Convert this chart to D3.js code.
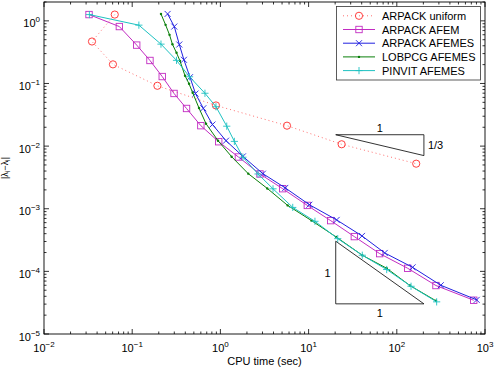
<!DOCTYPE html>
<html>
<head>
<meta charset="utf-8">
<script src="https://cdn.jsdelivr.net/npm/d3@7"></script>
<style>
	body { margin: 0; background: #fff; }
	text { font-family: "Liberation Sans", Arial, sans-serif; fill: #000; }
</style>
</head>
<body>
<svg id="chart" width="495" height="369"></svg>
<script>
// values (CPU time in sec, error)
var uniformTime = [0.0634, 0.035, 0.0605, 0.193, 0.891, 5.69, 23.7, 166];
var uniformErr  = [1.26, 0.468, 0.202, 0.0919, 0.0446, 0.0212, 0.0107, 0.00524];

var afemTime = [0.0324, 0.0715, 0.1125, 0.159, 0.219, 0.298, 0.413, 0.600, 0.957, 1.60, 2.81, 5.08, 9.67, 17.8, 33.0, 64.0, 133, 278, 745];
var afemErr  = [1.26, 0.811, 0.41, 0.233, 0.129, 0.0693, 0.0399, 0.0212, 0.01175, 0.0067, 0.00359, 0.00209, 0.00113, 0.000646, 0.000359, 0.000192, 0.000112, 5.94e-5, 3.46e-5];

var afemesTime = [0.252, 0.300, 0.342, 0.386, 0.452, 0.522, 0.640, 0.813, 1.157, 1.80, 3.03, 5.44, 10.2, 20.8, 40.3, 72.9, 151, 315, 805];
var afemesErr  = [1.29, 0.811, 0.419, 0.239, 0.126, 0.069, 0.0402, 0.0221, 0.0122, 0.00685, 0.00363, 0.00215, 0.00116, 0.000663, 0.000368, 0.000197, 0.000116, 6.0e-5, 3.51e-5];

var lobpcgTime = [0.212, 0.239, 0.265, 0.286, 0.318, 0.348, 0.397, 0.441, 0.485, 0.572, 0.687, 0.940, 1.34, 2.07, 3.40, 5.79, 10.8, 20.5, 40.6, 76.8, 141, 278];
var lobpcgErr  = [1.29, 0.863, 0.598, 0.422, 0.309, 0.230, 0.133, 0.0989, 0.0711, 0.0405, 0.0228, 0.0122, 0.00678, 0.00363, 0.00211, 0.00113, 0.000646, 0.000355, 0.000181, 0.000112, 5.94e-5, 3.39e-5];

var pinvitTime = [0.0327, 0.119, 0.212, 0.318, 0.447, 0.668, 0.891, 1.18, 1.44, 1.80, 2.67, 3.95, 6.61, 11.8, 21.4, 40.6, 76.8, 145, 283];
var pinvitErr  = [1.26, 0.854, 0.425, 0.234, 0.128, 0.0698, 0.0425, 0.0208, 0.0119, 0.00665, 0.00359, 0.00208, 0.00105, 0.000630, 0.000333, 0.000181, 0.000107, 5.78e-5, 3.26e-5];

var seriesNames = ["ARPACK uniform", "ARPACK AFEM", "ARPACK AFEMES", "LOBPCG AFEMES", "PINVIT AFEMES"];

var xTicks = [1e-2, 1e-1, 1e0, 1e1, 1e2, 1e3];
var xTickExp = ["\u22122", "\u22121", "0", "1", "2", "3"];
var yTicks = [1e-5, 1e-4, 1e-3, 1e-2, 1e-1, 1e0];
var yTickExp = ["\u22125", "\u22124", "\u22123", "\u22122", "\u22121", "0"];

// slope triangles: corner time, corner error, rise in decades over one decade, labels
var triTime  = [20.3, 20.3];
var triErr   = [0.0152, 3.03e-5];
var triRise  = [-1 / 3, 1];
var triRun   = ["1", "1"];
var triSlope = ["1/3", "1"];

var svg = d3.select("#chart"),
	pLeft = 44, pRight = 485, pTop = 2, pBottom = 334;

var x = d3.scaleLog().domain([1e-2, 1e3]).range([pLeft, pRight]);
var y = d3.scaleLog().domain([1e-5, 2]).range([pBottom, pTop]);

// ticks inside the box, on all four sides
var minorX = [], minorY = [];
for (var d = -2; d < 3; d++) {
	for (var m = 2; m < 10; m++) minorX.push(m * Math.pow(10, d));
}
for (var d = -5; d <= 0; d++) {
	for (var m = 2; m < 10; m++) {
		if (m * Math.pow(10, d) <= 2) minorY.push(m * Math.pow(10, d));
	}
}

var ticks = svg.append("g").attr("stroke", "#000").attr("stroke-width", 0.8);

function xTick(v, len) {
	var px = x(v);
	ticks.append("line").attr("x1", px).attr("x2", px).attr("y1", pBottom).attr("y2", pBottom - len);
	ticks.append("line").attr("x1", px).attr("x2", px).attr("y1", pTop).attr("y2", pTop + len);
}
function yTick(v, len) {
	var py = y(v);
	ticks.append("line").attr("y1", py).attr("y2", py).attr("x1", pLeft).attr("x2", pLeft + len);
	ticks.append("line").attr("y1", py).attr("y2", py).attr("x1", pRight).attr("x2", pRight - len);
}
minorX.forEach(function (v) { xTick(v, 2.5); });
xTicks.forEach(function (v) { xTick(v, 5); });
minorY.forEach(function (v) { yTick(v, 2.5); });
yTicks.forEach(function (v) { yTick(v, 5); });

// tick labels
xTicks.forEach(function (v, i) {
	var t = svg.append("text")
		.attr("x", x(v))
		.attr("y", 352)
		.attr("text-anchor", "middle")
		.attr("font-size", 11);
	t.append("tspan").text("10");
	t.append("tspan").attr("dy", -5).attr("font-size", 8).text(xTickExp[i]);
});
yTicks.forEach(function (v, i) {
	var t = svg.append("text")
		.attr("x", 40)
		.attr("y", y(v) + 6.5)
		.attr("text-anchor", "end")
		.attr("font-size", 11);
	t.append("tspan").text("10");
	t.append("tspan").attr("dy", -5).attr("font-size", 8).text(yTickExp[i]);
});

svg.append("text")
	.attr("x", (pLeft + pRight) / 2)
	.attr("y", 365)
	.attr("text-anchor", "middle")
	.attr("font-size", 11)
	.text("CPU time (sec)");

var yl = svg.append("text")
	.attr("transform", "translate(8," + ((pTop + pBottom) / 2) + ") rotate(-90)")
	.attr("text-anchor", "middle")
	.attr("font-size", 9);
yl.append("tspan").text("|\u03bb");
yl.append("tspan").attr("dy", 2).attr("font-size", 7).text("i");
yl.append("tspan").attr("dy", -2).text("\u2212\u03bb");
yl.append("tspan").attr("dy", 2).attr("font-size", 7).text("i");
yl.append("tspan").attr("dy", -2).text("|");

// slope triangles
triTime.forEach(function (t, i) {
	var t2 = t * 10;
	var g = svg.append("g");
	if (triRise[i] < 0) {
		// horizontal top edge, vertical right edge
		var eLow = triErr[i] * Math.pow(10, triRise[i]);
		g.append("path")
			.attr("d", "M" + x(t) + "," + y(triErr[i]) + "L" + x(t2) + "," + y(triErr[i]) +
				"L" + x(t2) + "," + y(eLow) + "Z")
			.attr("fill", "none").attr("stroke", "#000").attr("stroke-width", 0.8);
		g.append("text").attr("x", (x(t) + x(t2)) / 2).attr("y", y(triErr[i]) - 3)
			.attr("text-anchor", "middle").attr("font-size", 11).text(triRun[i]);
		g.append("text").attr("x", x(t2) + 4).attr("y", (y(triErr[i]) + y(eLow)) / 2 + 4)
			.attr("font-size", 11).text(triSlope[i]);
	} else {
		// vertical left edge, horizontal bottom edge
		var eTop = triErr[i] * Math.pow(10, triRise[i]);
		g.append("path")
			.attr("d", "M" + x(t) + "," + y(eTop) + "L" + x(t) + "," + y(triErr[i]) +
				"L" + x(t2) + "," + y(triErr[i]) + "Z")
			.attr("fill", "none").attr("stroke", "#000").attr("stroke-width", 0.8);
		g.append("text").attr("x", (x(t) + x(t2)) / 2).attr("y", y(triErr[i]) + 13)
			.attr("text-anchor", "middle").attr("font-size", 11).text(triRun[i]);
		g.append("text").attr("x", x(t) - 5).attr("y", (y(triErr[i]) + y(eTop)) / 2 + 4)
			.attr("text-anchor", "end").attr("font-size", 11).text(triSlope[i]);
	}
});

// markers
function marker(g, kind, px, py, color) {
	if (kind === "circle") {
		g.append("circle").attr("cx", px).attr("cy", py).attr("r", 3.6)
			.attr("fill", "none").attr("stroke", color).attr("stroke-width", 0.9);
	} else if (kind === "square") {
		g.append("rect").attr("x", px - 3.2).attr("y", py - 3.2).attr("width", 6.4).attr("height", 6.4)
			.attr("fill", "none").attr("stroke", color).attr("stroke-width", 0.9);
	} else if (kind === "x") {
		g.append("path").attr("d", "M" + (px - 3) + "," + (py - 3) + "L" + (px + 3) + "," + (py + 3) +
			"M" + (px - 3) + "," + (py + 3) + "L" + (px + 3) + "," + (py - 3))
			.attr("stroke", color).attr("stroke-width", 0.9);
	} else if (kind === "plus") {
		g.append("path").attr("d", "M" + (px - 3.6) + "," + py + "L" + (px + 3.6) + "," + py +
			"M" + px + "," + (py - 3.6) + "L" + px + "," + (py + 3.6))
			.attr("stroke", color).attr("stroke-width", 0.9);
	} else {
		g.append("circle").attr("cx", px).attr("cy", py).attr("r", 1.2).attr("fill", color);
	}
}

var series = [
	{name: seriesNames[0], t: uniformTime, e: uniformErr, color: "#ff2a2a", lineColor: "#ff7070", dash: "1,3", kind: "circle"},
	{name: seriesNames[1], t: afemTime, e: afemErr, color: "#c22cc2", lineColor: "#c22cc2", dash: null, kind: "square"},
	{name: seriesNames[2], t: afemesTime, e: afemesErr, color: "#2020e0", lineColor: "#2020e0", dash: null, kind: "x"},
	{name: seriesNames[3], t: lobpcgTime, e: lobpcgErr, color: "#0a7f0a", lineColor: "#0a7f0a", dash: null, kind: "dot"},
	{name: seriesNames[4], t: pinvitTime, e: pinvitErr, color: "#1ec2c2", lineColor: "#1ec2c2", dash: null, kind: "plus"}
];

var line = d3.line()
	.x(function (d) { return x(d[0]); })
	.y(function (d) { return y(d[1]); });

series.forEach(function (s) {
	var pts = s.t.map(function (v, i) { return [v, s.e[i]]; });
	var g = svg.append("g");
	g.append("path")
		.datum(pts)
		.attr("fill", "none")
		.attr("stroke", s.lineColor)
		.attr("stroke-width", 1)
		.attr("stroke-dasharray", s.dash)
		.attr("d", line);
	pts.forEach(function (p) { marker(g, s.kind, x(p[0]), y(p[1]), s.color); });
});

// box
svg.append("rect")
	.attr("x", pLeft).attr("y", pTop)
	.attr("width", pRight - pLeft).attr("height", pBottom - pTop)
	.attr("fill", "none").attr("stroke", "#000").attr("stroke-width", 0.9);

// legend
var lg = svg.append("g");
lg.append("rect")
	.attr("x", 336.5).attr("y", 6.5).attr("width", 144).attr("height", 73.5)
	.attr("fill", "#fff").attr("stroke", "#333").attr("stroke-width", 0.8);
series.forEach(function (s, i) {
	var ly = 15.8 + i * 13.7;
	lg.append("line")
		.attr("x1", 343).attr("x2", 375).attr("y1", ly).attr("y2", ly)
		.attr("stroke", s.lineColor).attr("stroke-width", 1)
		.attr("stroke-dasharray", s.dash);
	marker(lg, s.kind, 359, ly, s.color);
	lg.append("text")
		.attr("x", 382).attr("y", ly + 4)
		.attr("font-size", 11)
		.text(s.name);
});
</script>
</body>
</html>
